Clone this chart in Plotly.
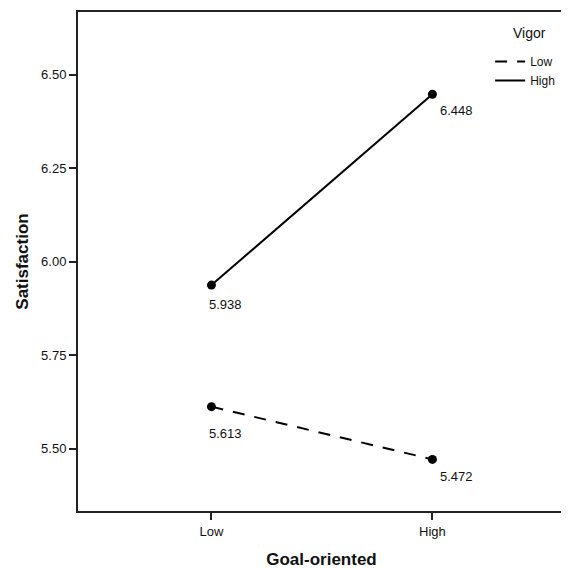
import plotly.graph_objects as go

categories = ["Low", "High"]
vigor_low = [5.613, 5.472]
vigor_high = [5.938, 6.448]
y_ticks = [5.50, 5.75, 6.00, 6.25, 6.50]

FONT = "Liberation Sans, Arial"
INK = "#111"
DASH = "12px,10px"

fig = go.Figure()
fig.add_trace(go.Scatter(
    x=categories, y=vigor_low, name="Low", mode="lines+markers",
    line=dict(color="black", width=2, dash=DASH),
    marker=dict(color="black", size=9), showlegend=False,
))
fig.add_trace(go.Scatter(
    x=categories, y=vigor_high, name="High", mode="lines+markers",
    line=dict(color="black", width=2),
    marker=dict(color="black", size=9), showlegend=False,
))
# legend entries (lines only, as in the reference)
fig.add_trace(go.Scatter(
    x=[None], y=[None], name="Low", mode="lines",
    line=dict(color="black", width=2, dash=DASH),
))
fig.add_trace(go.Scatter(
    x=[None], y=[None], name="High", mode="lines",
    line=dict(color="black", width=2),
))

# value labels
label_shift = {("Low", 0): -27, ("High", 0): -17, ("Low", 1): -19, ("High", 1): -16}
for si, series in enumerate([vigor_low, vigor_high]):
    for cat, val in zip(categories, series):
        fig.add_annotation(
            x=cat, y=val, xref="x", yref="y", text=f"{val:.3f}",
            showarrow=False, xanchor="left",
            xshift=6 if cat == "High" else -4,
            yshift=label_shift[(cat, si)],
            font=dict(family=FONT, size=13, color=INK),
        )

# legend title
fig.add_annotation(
    x=0.928, y=0.958, xref="paper", yref="paper", text="Vigor",
    showarrow=False, xanchor="center", yanchor="middle",
    font=dict(family=FONT, size=14, color=INK),
)

fig.update_layout(
    width=561, height=561,
    margin=dict(l=70, r=2, t=4, b=56),
    paper_bgcolor="white", plot_bgcolor="white",
    font=dict(family=FONT, size=13, color=INK),
    showlegend=True,
    legend=dict(
        x=0.99, y=0.93, xanchor="right", yanchor="top",
        bgcolor="rgba(0,0,0,0)", itemwidth=30,
        font=dict(size=12, color=INK),
        tracegroupgap=0,
    ),
    xaxis=dict(
        type="category", range=[-0.604, 1.6],
        showline=True, linecolor="#222", linewidth=2, mirror=True,
        ticks="outside", ticklen=7, tickwidth=2, tickcolor="#222",
        showgrid=False, zeroline=False,
        tickfont=dict(size=13, color=INK),
        title=dict(text="<b>Goal-oriented</b>", font=dict(size=17, color=INK), standoff=17),
    ),
    yaxis=dict(
        range=[5.334, 6.668], tickvals=y_ticks,
        ticktext=[f"{v:.2f}" for v in y_ticks],
        showline=True, linecolor="#222", linewidth=2, mirror=True,
        ticks="outside", ticklen=7, tickwidth=2, tickcolor="#222",
        showgrid=False, zeroline=False,
        tickfont=dict(size=13, color=INK),
        title=dict(text="<b>Satisfaction</b>", font=dict(size=17, color=INK), standoff=8),
    ),
)

fig.write_html("out.html")
